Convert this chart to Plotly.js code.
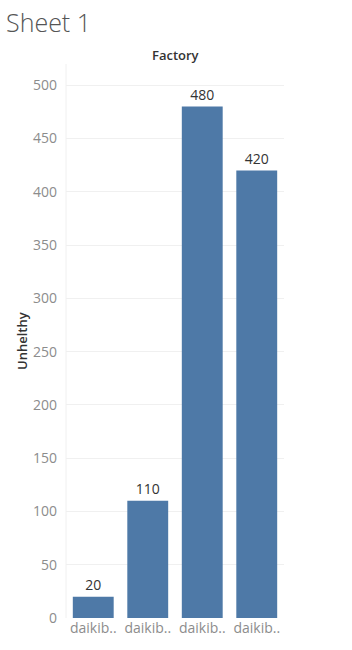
<!DOCTYPE html>
<html>
<head>
<meta charset="utf-8">
<script src="https://cdn.plot.ly/plotly-3.0.1.min.js"></script>
<style>
html,body{margin:0;padding:0;background:#fff;}
#chart{width:352px;height:650px;}
</style>
</head>
<body>
<div id="chart"></div>
<script>
const categories = ["daikibo-1", "daikibo-2", "daikibo-3", "daikibo-4"];
const tickLabels = ["daikib..", "daikib..", "daikib..", "daikib.."];
const unhealthy = [20, 110, 480, 420];
const yTicks = [0, 50, 100, 150, 200, 250, 300, 350, 400, 450, 500];

const trace = {
  type: "bar",
  x: categories,
  y: unhealthy,
  marker: {color: "#4e79a7"},
  text: unhealthy.map(String),
  textposition: "outside",
  textfont: {family: "Open Sans, sans-serif", size: 14, color: "#333333"},
  cliponaxis: false,
  hoverinfo: "x+y"
};

const layout = {
  width: 352,
  height: 650,
  margin: {l: 66, r: 68, t: 64, b: 32},
  paper_bgcolor: "#ffffff",
  plot_bgcolor: "#ffffff",
  bargap: 0.25,
  showlegend: false,
  font: {family: "Open Sans, sans-serif"},
  xaxis: {
    type: "category",
    tickvals: categories,
    ticktext: tickLabels,
    tickfont: {size: 14, color: "#8c8c8c"},
    showgrid: false,
    zeroline: false,
    showline: false,
    ticks: "",
    fixedrange: true
  },
  yaxis: {
    range: [0, 520],
    tickvals: yTicks,
    tickfont: {size: 14, color: "#8c8c8c"},
    gridcolor: "#f0f0f0",
    zeroline: false,
    showline: false,
    ticks: "",
    ticklabelstandoff: 8,
    fixedrange: true
  },
  shapes: [{
    type: "line", xref: "paper", yref: "paper",
    x0: 0, x1: 0, y0: 0, y1: 1,
    line: {color: "#f0f0f0", width: 1}
  }],
  annotations: [
    {
      text: "Sheet 1", xref: "paper", yref: "paper",
      x: -62/218, y: 1 + 42/554, xanchor: "left", yanchor: "middle",
      showarrow: false,
      font: {family: "Open Sans, sans-serif", size: 25, color: "#555555", weight: 300}
    },
    {
      text: "Factory", xref: "paper", yref: "paper",
      x: 0.5, y: 1 + 9/554, xanchor: "center", yanchor: "middle",
      showarrow: false,
      font: {family: "Open Sans, sans-serif", size: 13, color: "#333333", weight: 600}
    },
    {
      text: "Unhelthy", xref: "paper", yref: "paper",
      x: (22 - 66)/218, y: 0.5, xanchor: "center", yanchor: "middle",
      textangle: -90,
      showarrow: false,
      font: {family: "Open Sans, sans-serif", size: 13, color: "#333333", weight: 600}
    }
  ]
};

Plotly.newPlot("chart", [trace], layout, {displayModeBar: false, staticPlot: true});
</script>
</body>
</html>
